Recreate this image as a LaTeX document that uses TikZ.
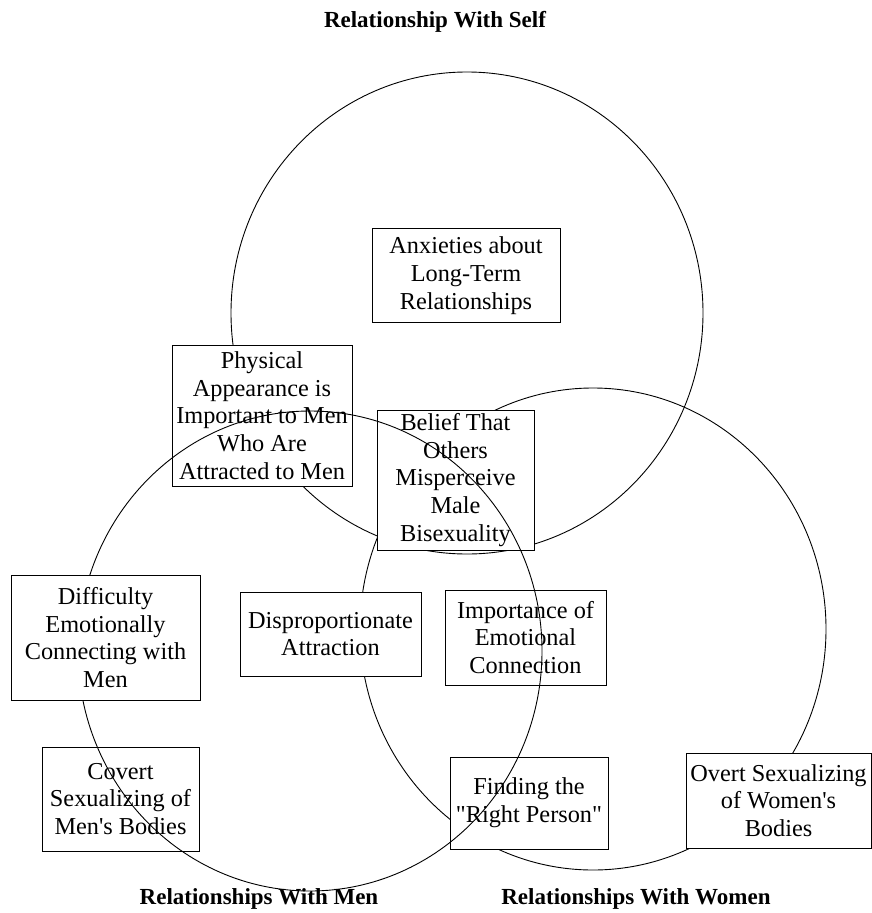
\documentclass[tikz,border=0pt]{standalone}
\usepackage{fontspec}
% plain family: keeps straight quotes and apostrophes
\newfontfamily\plainserif{Liberation Serif}
\begin{document}
\begin{tikzpicture}[x=1pt,y=-1pt,
  ring/.style={draw=black, line width=0.9pt},
  topic/.style={draw=black, line width=1pt, fill=white, align=center,
    inner sep=0pt, font=\plainserif\fontsize{24.3}{27.8}\selectfont},
  heading/.style={font=\plainserif\bfseries\fontsize{23}{27}\selectfont}]
\useasboundingbox[fill=white] (0,0) rectangle (872,913);

% self and women circles sit behind the boxes
\draw[ring] (467,313) ellipse [x radius=236, y radius=241];
\draw[ring] (593,629) ellipse [x radius=233, y radius=241];

\node[topic, minimum width=188pt, minimum height=94pt] (anxiety) at (466,275.5)
  {Anxieties about\\Long-Term\\Relationships};
\node[topic, minimum width=180pt, minimum height=141pt] (appearance) at (262,415.5)
  {Physical\\Appearance is\\Important to Men\\Who Are\\Attracted to Men};
\node[topic, minimum width=157pt, minimum height=140pt] (belief) at (455.5,480)
  {Belief That\\Others\\Misperceive\\Male\\Bisexuality};
\node[topic, minimum width=181pt, minimum height=84pt] (attraction) at (330.5,634)
  {Disproportionate\\Attraction};
\node[topic, minimum width=161pt, minimum height=95pt] (emotional) at (525.5,637.5)
  {Importance of\\Emotional\\Connection};
\node[topic, minimum width=157pt, minimum height=104pt] (covert) at (120.5,799)
  {Covert\\Sexualizing of\\Men's Bodies};
\node[topic, minimum width=158pt, minimum height=92pt] (rightperson) at (529,803)
  {Finding the\\"Right Person"};
\node[topic, minimum width=185pt, minimum height=95pt] (overt) at (778.5,800.5)
  {Overt Sexualizing\\of Women's\\Bodies};

% men circle runs over the boxes above
\draw[ring] (310,651) ellipse [x radius=232, y radius=240];

\node[topic, minimum width=189pt, minimum height=125pt] (difficulty) at (105.5,637.5)
  {Difficulty\\Emotionally\\Connecting with\\Men};

\node[heading] (self) at (435,22) {Relationship With Self};
\node[heading] (men) at (259,899) {Relationships With Men};
\node[heading] (women) at (636,899) {Relationships With Women};
\end{tikzpicture}
\end{document}
